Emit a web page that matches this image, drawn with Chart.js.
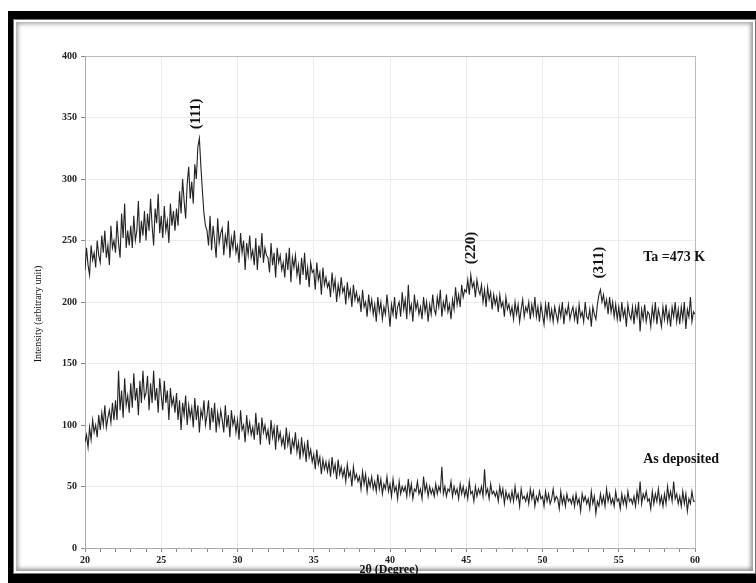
<!DOCTYPE html>
<html>
<head>
<meta charset="utf-8">
<script src="https://cdn.jsdelivr.net/npm/chart.js@4.4.0/dist/chart.umd.min.js"></script>
<style>
  html, body { margin: 0; padding: 0; background: #fff; }
  body { width: 756px; height: 583px; position: relative; overflow: hidden; }
  #outer { position: absolute; left: 8px; top: 11px; width: 748px; height: 572px; background: #000; }
  #inner { position: absolute; left: 16px; top: 22px; width: 737px; height: 549px; background: #fff;
           box-shadow: 0 0 0 2px #fff, 0 0 0 3px #777, inset 2px 2px 4px #aaa, inset -2px -2px 4px #888; }
  #c { position: absolute; left: 0; top: 0; }
</style>
</head>
<body>
<div id="outer"></div>
<div id="inner"></div>
<canvas id="c" width="756" height="583"></canvas>
<script>
// Sampling grid of the scan (2θ, degrees)
const angleStart = 20;
const angleStep = 0.1;

// Ta = 473 K (upper pattern), one row per degree
const annealed = [
  226,244,230,222,246,234,240,228,250,238,
  232,254,240,258,236,246,230,262,244,250,
  240,266,248,236,272,252,280,244,258,246,
  262,244,270,250,258,282,248,266,254,274,
  250,272,258,284,262,246,276,264,288,256,
  270,252,278,258,266,248,280,262,274,258,
  276,262,290,272,300,282,268,296,310,284,
  298,280,312,300,326,333,310,290,272,262,
  258,246,270,242,262,250,236,268,248,256,
  260,238,254,246,266,236,252,244,258,240,
  246,232,256,240,250,226,248,238,254,236,
  242,230,252,226,246,236,256,232,244,238,
  236,224,248,230,240,220,244,232,238,226,
  232,220,240,226,244,216,236,228,238,222,
  230,214,236,222,240,218,228,212,232,224,
  226,210,232,218,224,206,228,214,220,212,
  216,204,224,210,218,200,214,206,220,208,
  212,198,216,204,210,196,214,202,208,200,
  204,192,210,196,200,188,206,194,202,190,
  198,184,204,192,200,186,196,190,206,194,
  180,198,190,204,186,196,200,188,208,194,
  202,186,214,192,198,184,206,194,200,190,
  196,186,204,192,200,184,198,190,206,194,
  190,204,196,210,188,200,194,206,192,198,
  186,202,194,212,198,206,196,214,204,210,
  208,218,206,222,212,216,204,218,210,206,
  214,200,210,196,212,202,208,194,206,198,
  204,192,206,196,200,188,204,194,198,190,
  196,186,200,190,198,184,194,202,188,196,
  192,200,186,198,190,204,188,196,184,198,
  190,182,198,188,200,186,194,184,196,190,
  184,196,188,200,182,194,190,198,186,192,
  196,186,194,182,198,188,192,184,200,188,
  186,194,180,196,190,186,198,206,210,200,
  206,196,202,190,204,192,200,188,198,186,
  196,184,200,188,194,180,198,190,186,196,
  182,196,188,200,176,194,186,198,184,192,
  190,180,196,186,200,182,194,188,180,196,
  186,198,184,192,180,196,188,200,184,194,
  182,196,186,200,178,194,188,204,184,192,
  190
];

// As deposited (lower pattern), one row per degree
const asDeposited = [
  86,92,82,98,88,104,94,100,90,108,
  96,110,100,116,98,106,112,102,118,104,
  120,104,144,112,128,106,138,116,124,110,
  134,114,142,120,130,108,136,118,144,122,
  126,140,112,134,118,144,120,130,110,138,
  124,112,136,118,128,104,130,116,122,110,
  126,104,120,96,118,108,124,100,116,106,
  114,98,122,104,116,94,112,106,120,100,
  108,120,96,114,102,118,94,110,100,112,
  104,94,116,98,108,90,112,100,106,94,
  104,88,112,96,100,86,108,94,102,92,
  98,88,110,92,102,84,106,94,100,90,
  96,84,104,90,98,80,100,88,94,84,
  90,80,98,84,92,76,88,82,94,78,
  86,72,90,76,84,70,88,74,80,70,
  76,64,80,68,74,60,72,64,70,62,
  70,58,74,62,68,56,72,60,66,58,
  64,54,68,58,62,50,66,56,60,54,
  58,48,62,52,60,46,56,50,58,48,
  54,46,60,48,56,44,52,48,58,46,
  52,42,56,46,50,40,54,44,50,46,
  50,42,56,44,52,40,48,46,54,44,
  48,40,58,46,52,42,50,44,48,42,
  52,44,50,46,66,44,50,42,48,46,
  54,42,50,44,48,40,52,44,50,42,
  48,40,54,44,46,38,50,42,48,44,
  50,42,64,44,48,40,52,44,46,42,
  46,38,50,42,48,36,46,40,44,38,
  46,38,50,40,44,34,48,40,42,38,
  44,36,48,40,46,34,42,38,46,40,
  42,34,46,38,44,36,40,48,38,42,
  40,32,46,36,42,34,44,38,40,36,
  42,34,44,36,40,30,44,38,42,36,
  40,32,46,36,42,28,38,34,44,36,
  42,34,48,38,44,36,40,34,46,38,
  40,32,44,36,42,34,46,38,40,36,
  42,34,46,38,54,36,44,40,46,38,
  40,32,46,36,44,38,48,36,42,34,
  44,36,50,40,46,38,54,40,44,36,
  42,34,46,36,44,30,40,36,46,38,
  38
];

const xTickLabels = [20, 25, 30, 35, 40, 45, 50, 55, 60];
const yTickLabels = [0, 50, 100, 150, 200, 250, 300, 350, 400];

// Peak labels and series labels (anchored in data coordinates)
const peakLabels = [
  { text: '(111)', x: 27.3, y: 353 },
  { text: '(220)', x: 45.3, y: 244 },
  { text: '(311)', x: 53.7, y: 232 }
];
const seriesLabels = [
  { text: 'Ta =473 K', x: 56.6, y: 236 },
  { text: 'As deposited', x: 56.6, y: 72 }
];

const toPoints = arr => arr.map((v, i) => ({ x: +(angleStart + i * angleStep).toFixed(2), y: v }));

const SERIF = '"Liberation Serif", "DejaVu Serif", serif';

const textPlugin = {
  id: 'texts',
  afterDatasetsDraw(chart) {
    const { ctx, chartArea, scales } = chart;
    const xs = scales.x, ys = scales.y;
    ctx.save();
    ctx.fillStyle = '#111';
    ctx.font = 'bold 15px ' + SERIF;
    ctx.textAlign = 'center';
    ctx.textBaseline = 'middle';
    peakLabels.forEach(p => {
      ctx.save();
      ctx.translate(xs.getPixelForValue(p.x), ys.getPixelForValue(p.y));
      ctx.rotate(-Math.PI / 2);
      ctx.fillText(p.text, 0, 0);
      ctx.restore();
    });
    ctx.font = 'bold 14px ' + SERIF;
    ctx.textAlign = 'left';
    seriesLabels.forEach(s => {
      ctx.fillText(s.text, xs.getPixelForValue(s.x), ys.getPixelForValue(s.y));
    });
    ctx.font = 'bold 12px ' + SERIF;
    ctx.textAlign = 'center';
    ctx.fillText('2θ (Degree)', (chartArea.left + chartArea.right) / 2 - 1, chartArea.bottom + 22);
    ctx.save();
    ctx.font = '10px ' + SERIF;
    ctx.translate(chartArea.left - 47, (chartArea.top + chartArea.bottom) / 2 + 12);
    ctx.rotate(-Math.PI / 2);
    ctx.fillText('Intensity (arbitrary unit)', 0, 0);
    ctx.restore();
    ctx.restore();
  }
};

new Chart(document.getElementById('c'), {
  type: 'line',
  data: {
    datasets: [
      { label: 'Ta =473 K', data: toPoints(annealed), borderColor: '#222', borderWidth: 1.1, pointRadius: 0, tension: 0, fill: false },
      { label: 'As deposited', data: toPoints(asDeposited), borderColor: '#222', borderWidth: 1.1, pointRadius: 0, tension: 0, fill: false }
    ]
  },
  options: {
    responsive: false,
    animation: false,
    events: [],
    layout: { padding: { left: 0, top: 56, right: 61, bottom: 0 } },
    plugins: { legend: { display: false }, tooltip: { enabled: false }, title: { display: false } },
    scales: {
      x: {
        type: 'linear', min: 20, max: 60,
        afterFit: s => { s.height = 35; },
        border: { color: '#aaa', width: 1 },
        grid: {
          color: c => {
            const v = c.tick ? c.tick.value : null;
            if (v === 60) return '#bbb';
            if (v !== null && v !== 20 && v % 5 === 0) return '#ececec';
            return 'rgba(0,0,0,0)';
          },
          tickColor: '#888', tickLength: 4, lineWidth: 1
        },
        ticks: {
          stepSize: 1, maxTicksLimit: 100, autoSkip: false, maxRotation: 0, padding: 2,
          color: '#222', font: { family: SERIF, size: 10, weight: 'bold' },
          callback: v => xTickLabels.includes(v) ? String(v) : ''
        }
      },
      y: {
        min: 0, max: 400,
        afterFit: s => { s.width = 85; },
        border: { color: '#aaa', width: 1 },
        grid: {
          color: c => {
            const v = c.tick ? c.tick.value : null;
            if (v === 400) return '#bbb';
            if (v === 0) return 'rgba(0,0,0,0)';
            return '#ececec';
          },
          tickColor: '#888', tickLength: 4
        },
        ticks: {
          stepSize: 50, padding: 4,
          color: '#222', font: { family: SERIF, size: 10, weight: 'bold' },
          callback: v => yTickLabels.includes(v) ? String(v) : ''
        }
      }
    }
  },
  plugins: [textPlugin]
});
</script>
</body>
</html>
